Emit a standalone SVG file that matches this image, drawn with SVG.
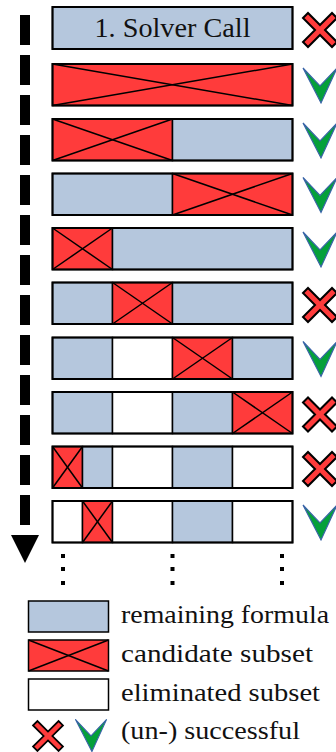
<svg xmlns="http://www.w3.org/2000/svg" xmlns:xlink="http://www.w3.org/1999/xlink" width="336" height="752" viewBox="0 0 336 752">
<style>
.b{fill:#b5c7dd;stroke:#000;stroke-width:1.5}
.r{fill:#ff3b3b;stroke:#000;stroke-width:1.5}
.w{fill:#fff;stroke:#000;stroke-width:1.5}
.o{fill:none;stroke:#000;stroke-width:2}
.x{stroke:#000;stroke-width:1.5}
.dot{fill:#000}
text{font-family:'Liberation Serif','DejaVu Serif',serif;fill:#111}
</style>
<defs>
<path id="cross" d="M-17,-12 L-12,-17 L0,-5 L12,-17 L17,-12 L5,0 L17,12 L12,17 L0,5 L-12,17 L-17,12 L-5,0 Z" fill="#ff3b3b" stroke="#000" stroke-width="2" stroke-linejoin="miter"/>
<path id="check" d="M-17,-17 L0,1 L17,-17 L1,18 Z" fill="#05a03a" stroke="#3a64a8" stroke-width="1.2" stroke-linejoin="miter"/>
</defs>
<g id="connectors">
<line x1="25" y1="15" x2="25" y2="525" stroke="#000" stroke-width="10" stroke-dasharray="30 10"/>
<polygon points="11,535 39,535 25,563" fill="#000"/>
</g>
<g id="row1">
<rect class="b" x="52.5" y="7" width="240" height="42"/>
<text x="172.5" y="37" font-size="27" text-anchor="middle" textLength="156" lengthAdjust="spacingAndGlyphs">1. Solver Call</text>
<rect class="o" x="52.5" y="7" width="240" height="42"/>
<use xlink:href="#cross" x="320" y="30"/>
</g>
<g id="row2">
<rect class="r" x="52.5" y="64" width="240" height="41.5"/>
<line class="x" x1="52.5" y1="64" x2="292.5" y2="105.5"/><line class="x" x1="52.5" y1="105.5" x2="292.5" y2="64"/>
<rect class="o" x="52.5" y="64" width="240" height="41.5"/>
<use xlink:href="#check" x="320" y="85"/>
</g>
<g id="row3">
<rect class="r" x="52.5" y="119" width="120" height="41.5"/>
<line class="x" x1="52.5" y1="119" x2="172.5" y2="160.5"/><line class="x" x1="52.5" y1="160.5" x2="172.5" y2="119"/>
<rect class="b" x="172.5" y="119" width="120" height="41.5"/>
<rect class="o" x="52.5" y="119" width="240" height="41.5"/>
<use xlink:href="#check" x="320" y="140"/>
</g>
<g id="row4">
<rect class="b" x="52.5" y="173.5" width="120" height="41.5"/>
<rect class="r" x="172.5" y="173.5" width="120" height="41.5"/>
<line class="x" x1="172.5" y1="173.5" x2="292.5" y2="215"/><line class="x" x1="172.5" y1="215" x2="292.5" y2="173.5"/>
<rect class="o" x="52.5" y="173.5" width="240" height="41.5"/>
<use xlink:href="#check" x="320" y="194.5"/>
</g>
<g id="row5">
<rect class="r" x="52.5" y="228" width="60" height="41.5"/>
<line class="x" x1="52.5" y1="228" x2="112.5" y2="269.5"/><line class="x" x1="52.5" y1="269.5" x2="112.5" y2="228"/>
<rect class="b" x="112.5" y="228" width="180" height="41.5"/>
<rect class="o" x="52.5" y="228" width="240" height="41.5"/>
<use xlink:href="#check" x="320" y="249"/>
</g>
<g id="row6">
<rect class="b" x="52.5" y="282.5" width="60" height="41.5"/>
<rect class="r" x="112.5" y="282.5" width="60" height="41.5"/>
<line class="x" x1="112.5" y1="282.5" x2="172.5" y2="324"/><line class="x" x1="112.5" y1="324" x2="172.5" y2="282.5"/>
<rect class="b" x="172.5" y="282.5" width="120" height="41.5"/>
<rect class="o" x="52.5" y="282.5" width="240" height="41.5"/>
<use xlink:href="#cross" x="320" y="305"/>
</g>
<g id="row7">
<rect class="b" x="52.5" y="337.5" width="60" height="41.5"/>
<rect class="w" x="112.5" y="337.5" width="60" height="41.5"/>
<rect class="r" x="172.5" y="337.5" width="60" height="41.5"/>
<line class="x" x1="172.5" y1="337.5" x2="232.5" y2="379"/><line class="x" x1="172.5" y1="379" x2="232.5" y2="337.5"/>
<rect class="b" x="232.5" y="337.5" width="60" height="41.5"/>
<rect class="o" x="52.5" y="337.5" width="240" height="41.5"/>
<use xlink:href="#check" x="320" y="358.5"/>
</g>
<g id="row8">
<rect class="b" x="52.5" y="392" width="60" height="41.5"/>
<rect class="w" x="112.5" y="392" width="60" height="41.5"/>
<rect class="b" x="172.5" y="392" width="60" height="41.5"/>
<rect class="r" x="232.5" y="392" width="60" height="41.5"/>
<line class="x" x1="232.5" y1="392" x2="292.5" y2="433.5"/><line class="x" x1="232.5" y1="433.5" x2="292.5" y2="392"/>
<rect class="o" x="52.5" y="392" width="240" height="41.5"/>
<use xlink:href="#cross" x="320" y="414.5"/>
</g>
<g id="row9">
<rect class="r" x="52.5" y="446.5" width="30" height="41.5"/>
<line class="x" x1="52.5" y1="446.5" x2="82.5" y2="488"/><line class="x" x1="52.5" y1="488" x2="82.5" y2="446.5"/>
<rect class="b" x="82.5" y="446.5" width="30" height="41.5"/>
<rect class="w" x="112.5" y="446.5" width="60" height="41.5"/>
<rect class="b" x="172.5" y="446.5" width="60" height="41.5"/>
<rect class="w" x="232.5" y="446.5" width="60" height="41.5"/>
<rect class="o" x="52.5" y="446.5" width="240" height="41.5"/>
<use xlink:href="#cross" x="320" y="469"/>
</g>
<g id="row10">
<rect class="w" x="52.5" y="501" width="30" height="41.5"/>
<rect class="r" x="82.5" y="501" width="30" height="41.5"/>
<line class="x" x1="82.5" y1="501" x2="112.5" y2="542.5"/><line class="x" x1="82.5" y1="542.5" x2="112.5" y2="501"/>
<rect class="w" x="112.5" y="501" width="60" height="41.5"/>
<rect class="b" x="172.5" y="501" width="60" height="41.5"/>
<rect class="w" x="232.5" y="501" width="60" height="41.5"/>
<rect class="o" x="52.5" y="501" width="240" height="41.5"/>
<use xlink:href="#check" x="320" y="522"/>
</g>
<g id="ellipsis">
<rect class="dot" x="61" y="554" width="4" height="4"/><rect class="dot" x="61" y="567" width="4" height="4"/><rect class="dot" x="61" y="581" width="4" height="4"/>
<rect class="dot" x="170.5" y="554" width="4" height="4"/><rect class="dot" x="170.5" y="567" width="4" height="4"/><rect class="dot" x="170.5" y="581" width="4" height="4"/>
<rect class="dot" x="280" y="554" width="4" height="4"/><rect class="dot" x="280" y="567" width="4" height="4"/><rect class="dot" x="280" y="581" width="4" height="4"/>
</g>
<g id="legend-remaining">
<rect class="b" x="28.5" y="601" width="80" height="31" stroke-width="2"/>
<text x="121" y="623" font-size="25" textLength="208" lengthAdjust="spacingAndGlyphs">remaining formula</text>
</g>
<g id="legend-candidate">
<rect class="r" x="28.5" y="640" width="80" height="31" stroke-width="2"/>
<line class="x" x1="28.5" y1="640" x2="108.5" y2="671"/><line class="x" x1="28.5" y1="671" x2="108.5" y2="640"/>
<text x="121" y="662" font-size="25" textLength="192" lengthAdjust="spacingAndGlyphs">candidate subset</text>
</g>
<g id="legend-eliminated">
<rect class="w" x="28.5" y="679" width="80" height="31" stroke-width="2"/>
<text x="121" y="701" font-size="25" textLength="199" lengthAdjust="spacingAndGlyphs">eliminated subset</text>
</g>
<g id="legend-success">
<use xlink:href="#cross" transform="translate(48,736) scale(0.88)"/>
<use xlink:href="#check" transform="translate(91,735) scale(0.92)"/>
<text x="121" y="739" font-size="25" textLength="179" lengthAdjust="spacingAndGlyphs">(un-) successful</text>
</g>
</svg>
